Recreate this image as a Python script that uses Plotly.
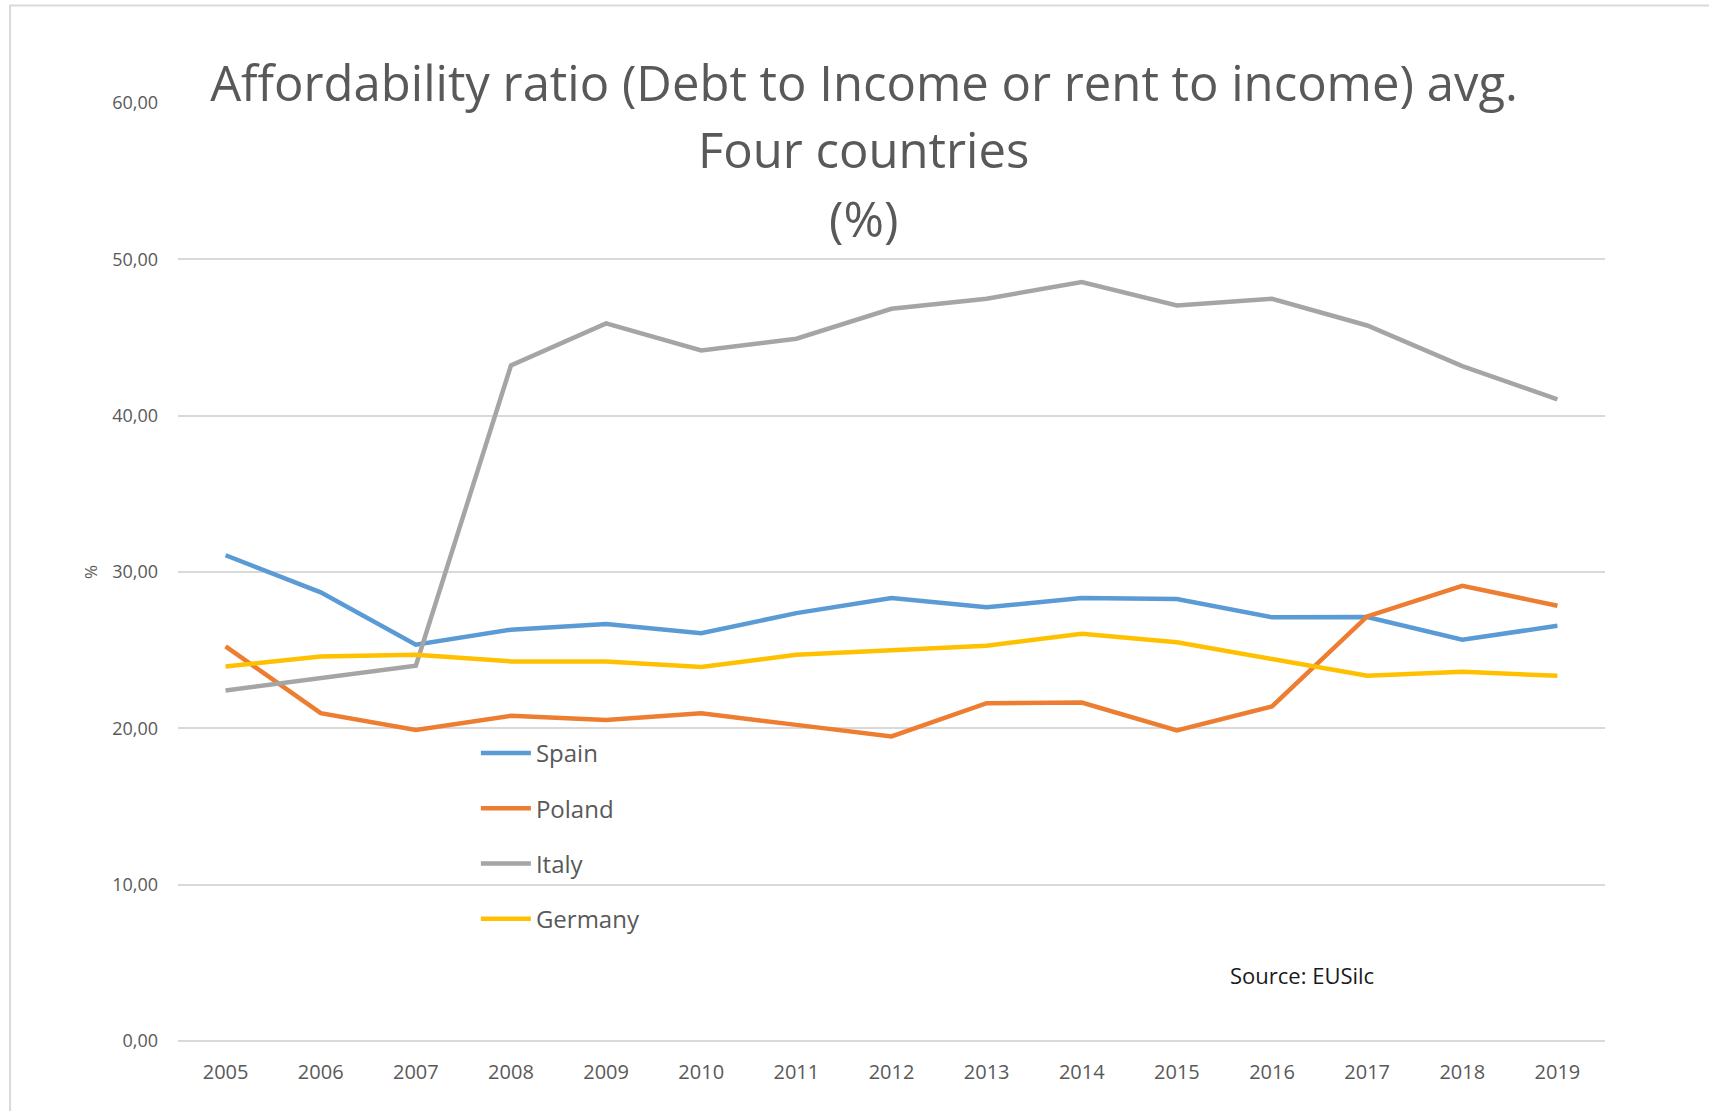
import plotly.graph_objects as go

years = [str(y) for y in range(2005, 2020)]
spain = [31.07, 28.70, 25.35, 26.31, 26.67, 26.09, 27.37, 28.33, 27.74, 28.33, 28.27, 27.10, 27.12, 25.67, 26.56]
poland = [25.24, 20.97, 19.90, 20.80, 20.54, 20.97, 20.22, 19.48, 21.61, 21.65, 19.86, 21.40, 27.16, 29.12, 27.84]
italy = [22.42, 23.21, 24.00, 43.21, 45.90, 44.17, 44.92, 46.84, 47.48, 48.55, 47.05, 47.48, 45.77, 43.17, 41.04]
germany = [23.96, 24.60, 24.71, 24.28, 24.28, 23.92, 24.71, 25.03, 25.28, 26.05, 25.50, 24.43, 23.36, 23.62, 23.36]

series_names = ["Spain", "Poland", "Italy", "Germany"]
series_values = [spain, poland, italy, germany]
series_colors = ["#5B9BD5", "#ED7D31", "#A5A5A5", "#FFC000"]

title_lines = ["Affordability ratio (Debt to Income or rent to income) avg.", "Four countries", "(%)"]
source_text = "Source: EUSilc"

W, H = 1709, 1111
L, R, T, B = 178, 1709 - 1605.5, 103, 1111 - 1041
pw, ph = W - L - R, H - T - B

def px(x):
    return (x - L) / pw

def py(y):
    return (H - B - y) / ph

FONT = "Open Sans"
GREY = "#595959"
TSIZE = 49

fig = go.Figure()
for name, vals, col in zip(series_names, series_values, series_colors):
    fig.add_trace(go.Scatter(
        x=years, y=vals, name=name, mode="lines",
        line=dict(color=col, width=4.5), legendgroup=name,
    ))

fig.update_layout(
    width=W, height=H,
    margin=dict(l=L, r=R, t=T, b=B, pad=0),
    paper_bgcolor="white", plot_bgcolor="white",
    separators=",.",
    font=dict(family=FONT, color=GREY),
    title=dict(
        text=title_lines[0], font=dict(size=TSIZE, color=GREY, family=FONT),
        x=864 / W, xanchor="center", xref="container",
        y=1 - 84 / H, yanchor="middle", yref="container",
    ),
    xaxis=dict(
        type="category", range=[-0.5, 14.5], showgrid=False, ticks="",
        showline=False, tickfont=dict(size=20, color=GREY), ticklabelstandoff=17,
    ),
    yaxis=dict(
        range=[0, 60], dtick=10, tickformat=".2f", showgrid=True,
        gridcolor="#D9D9D9", gridwidth=1.5, zeroline=True, zerolinecolor="#D9D9D9",
        zerolinewidth=1.5, ticks="", showline=False,
        tickfont=dict(size=18, color=GREY), ticklabelstandoff=19,
        title=dict(text="%", font=dict(size=17, color=GREY), standoff=10),
    ),
    showlegend=True,
    legend=dict(
        x=px(476), y=py(731), xanchor="left", yanchor="top",
        font=dict(size=24, color=GREY, family=FONT),
        tracegroupgap=21, itemwidth=50, bgcolor="rgba(0,0,0,0)",
    ),
    annotations=[
        dict(text=title_lines[1], x=px(864), y=py(149.5), xref="paper", yref="paper",
             showarrow=False, xanchor="center", yanchor="middle",
             font=dict(size=TSIZE, color=GREY, family=FONT)),
        dict(text=title_lines[2], x=px(864), y=py(218), xref="paper", yref="paper",
             showarrow=False, xanchor="center", yanchor="middle",
             font=dict(size=TSIZE, color=GREY, family=FONT)),
        dict(text=source_text, x=px(1302), y=py(975), xref="paper", yref="paper",
             showarrow=False, xanchor="center", yanchor="middle",
             font=dict(size=22, color="#1A1A1A", family=FONT)),
    ],
    shapes=[
        dict(type="rect", xref="paper", yref="paper",
             x0=px(10), x1=px(1720), y0=py(1120), y1=py(5.5),
             line=dict(color="#D9D9D9", width=2), fillcolor="rgba(0,0,0,0)", layer="below"),
    ],
)

fig.write_html("out.html")
